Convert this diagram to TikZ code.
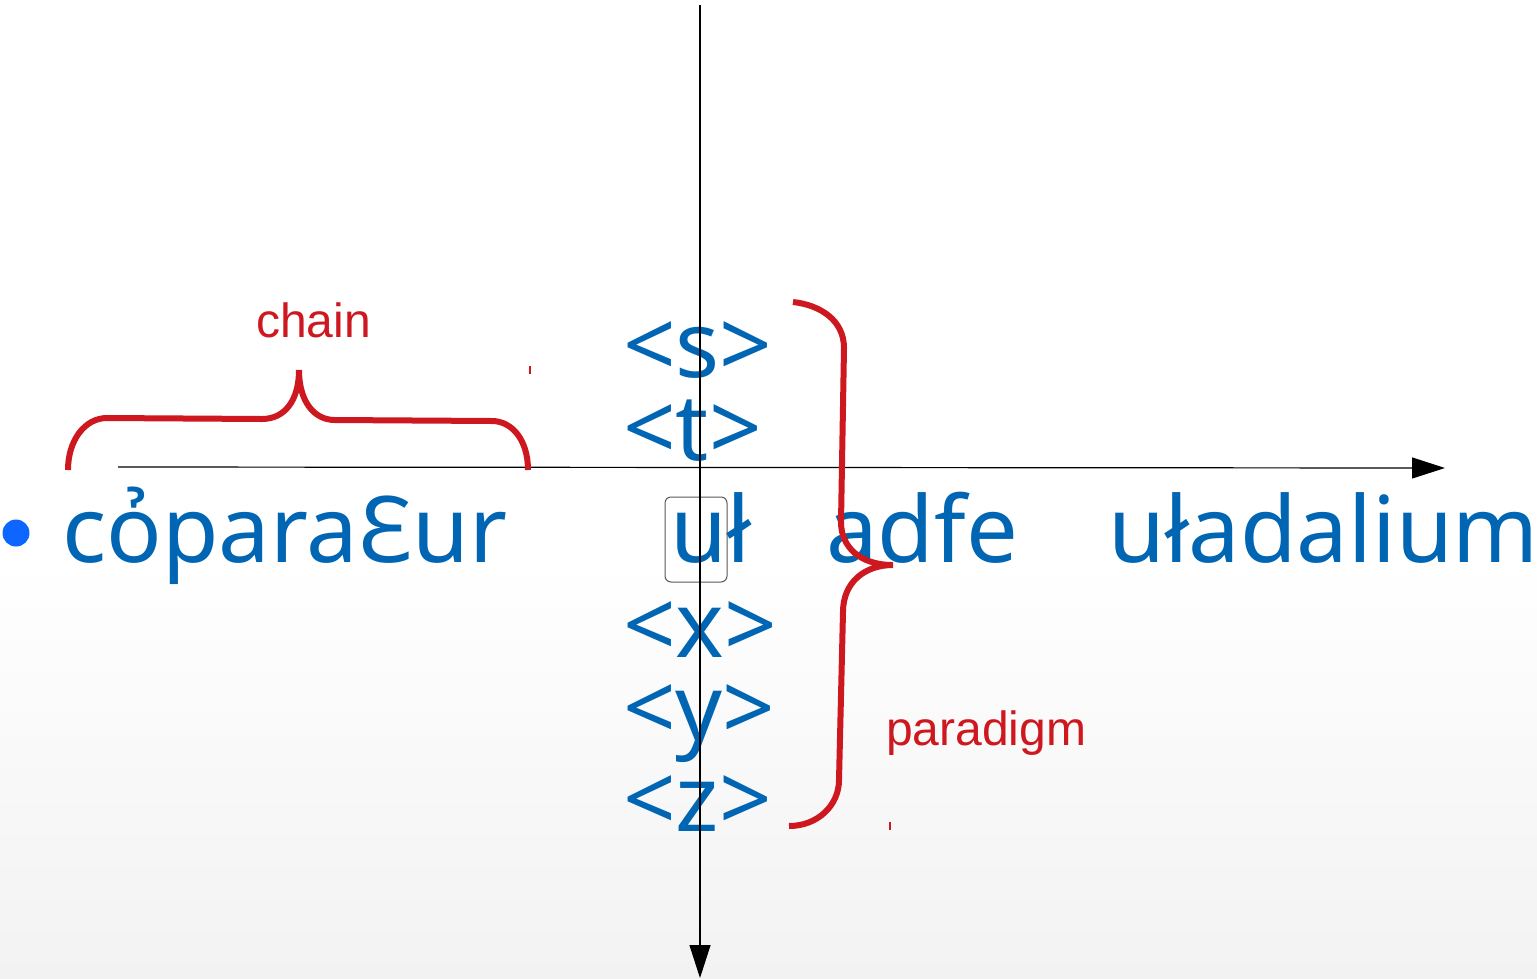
\documentclass[tikz,border=0pt]{standalone}
\usepackage{fontspec}
\setmainfont{Noto Sans}
\newfontfamily\arialf{Liberation Sans}
\usetikzlibrary{arrows.meta}
\definecolor{tblue}{RGB}{0,101,179}
\definecolor{bblue}{RGB}{12,102,255}
\definecolor{tred}{RGB}{206,24,32}
\definecolor{bggray}{RGB}{242,242,242}
\tikzset{
  big/.style={anchor=base west, inner sep=0pt, text=tblue, font=\fontsize{92}{92}\selectfont},
  lab/.style={anchor=base west, inner sep=0pt, text=tred, font=\arialf\fontsize{48}{48}\selectfont},
  axis/.style={line width=1.2pt, black, -{Triangle[length=33pt,width=21pt]}},
  brace/.style={line width=6pt, tred},
  tick/.style={line width=1.5pt, tred},
  ubox/.style={draw=black!65, line width=1pt, rounded corners=6pt}
}
\begin{document}
\begin{tikzpicture}[x=1pt,y=-1pt]
\useasboundingbox (0,0) rectangle (1537,978);
\fill[white] (0,0) rectangle (1537,560);
\shade[top color=white, bottom color=bggray] (0,560) rectangle (1537,978);
% axes
\coordinate (vtop) at (700,5);
\coordinate (vbot) at (700,978);
\coordinate (hleft) at (118,467);
\coordinate (hright) at (1445,468);
% bullet
\fill[bblue] (16,533) circle (13.5);
% main line
\node[big] (w1) at (62,562) {cỏparaƐur};
\node[big] (w2) at (670,562) {uł};
\node[big] (w3) at (826,562) {adfe};
\node[big] (w4) at (1108,562) {uładalium};
% paradigm column
\node[big] (ps) at (623,377) {<s>};
\node[big] (pt) at (623,460) {<t>};
\node[big] (px) at (623,657) {<x>};
\node[big] (py) at (623,740) {<y>};
\node[big] (pz) at (623,831) {<z>};
% box around u
\node[ubox, minimum width=62pt, minimum height=85pt] (ub) at (696,539.5) {};
\draw[axis] (vtop) -- (vbot);
\draw[axis] (hleft) -- (hright);
% labels
\node[lab] (chain) at (256,337) {chain};
\node[lab] (para) at (886,745) {paradigm};
% chain brace
\draw[brace] (68,470) .. controls (68,440) and (85,418) .. (107,418) -- (262,419)
  .. controls (285,419) and (299,400) .. (299,370)
  .. controls (299,400) and (313,420) .. (335,420) -- (492,421)
  .. controls (512,421) and (528,440) .. (528,470);
% paradigm brace
\draw[brace] (793,302) .. controls (820,305) and (844,320) .. (844,348) -- (841,522)
  .. controls (841,547) and (860,565) .. (893,565)
  .. controls (865,565) and (843,582) .. (843,612) -- (839,780)
  .. controls (839,805) and (818,826) .. (789,826);
% small ticks
\coordinate (t1a) at (530,366); \coordinate (t1b) at (530,374);
\draw[tick] (t1a) -- (t1b);
\coordinate (t2a) at (890,822); \coordinate (t2b) at (890,830);
\draw[tick] (t2a) -- (t2b);
\end{tikzpicture}
\end{document}
